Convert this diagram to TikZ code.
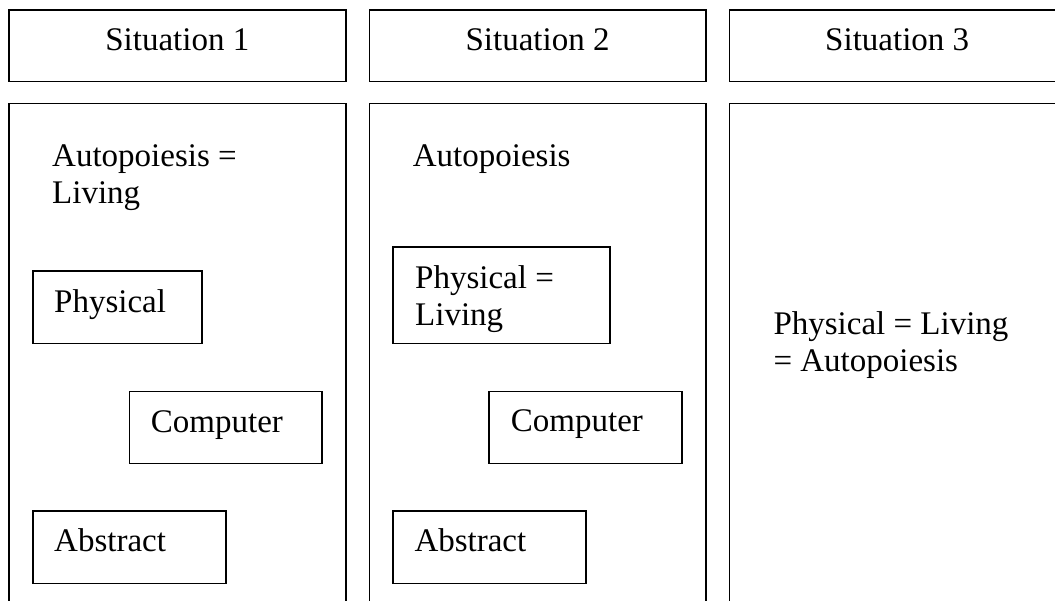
\documentclass[tikz,border=0pt]{standalone}
\usepackage{fontspec}
\setmainfont{Liberation Serif}
\begin{document}
\begin{tikzpicture}[x=1pt,y=-1pt,
  frame/.style={draw=black, line width=1.6pt},
  lbl/.style={anchor=base west, inner sep=0pt, align=left,
              font=\fontsize{33}{37}\selectfont},
  head/.style={anchor=base, inner sep=0pt,
               font=\fontsize{33}{37}\selectfont}]
\useasboundingbox (0,0) rectangle (1055,601);
\clip (0,0) rectangle (1055,601);

% header boxes
\draw[frame] (9,10.3)    rectangle (345.7,81.7);
\draw[frame] (369.3,10.3) rectangle (706,81.7);
\draw[frame] (729.3,10.3) rectangle (1065,81.7);
\node[head] (h1) at (177.3,50.7) {Situation 1};
\node[head] (h2) at (537.6,50.7) {Situation 2};
\node[head] (h3) at (897.2,50.7) {Situation 3};

% column panels (run past the lower edge)
\draw[frame] (9,103.7)    rectangle (345.7,640);
\draw[frame] (369.3,103.7) rectangle (706,640);
\draw[frame] (729.3,103.7) rectangle (1065,640);

% column 1
\node[lbl] (auto1) at (52,204) {Autopoiesis =\\Living};
\draw[frame] (33,271)    rectangle (201.7,343.7);
\node[lbl] (phys1) at (54,312.7) {Physical};
\draw[frame] (129.3,391.7) rectangle (322,463.3);
\node[lbl] (comp1) at (150.7,432.7) {Computer};
\draw[frame] (33,511)    rectangle (225.7,583.3);
\node[lbl] (abst1) at (54,551.7) {Abstract};

% column 2
\node[lbl] (auto2) at (412.7,166.7) {Autopoiesis};
\draw[frame] (393,247.3)  rectangle (610,343.7);
\node[lbl] (phys2) at (415,325.7) {Physical =\\Living};
\draw[frame] (489,391.7)  rectangle (682,463.3);
\node[lbl] (comp2) at (510.7,431.7) {Computer};
\draw[frame] (393,511)    rectangle (586,583.3);
\node[lbl] (abst2) at (414.3,551.7) {Abstract};

% column 3
\node[lbl] (all3) at (773.3,371.7) {Physical = Living\\= Autopoiesis};
\end{tikzpicture}
\end{document}
